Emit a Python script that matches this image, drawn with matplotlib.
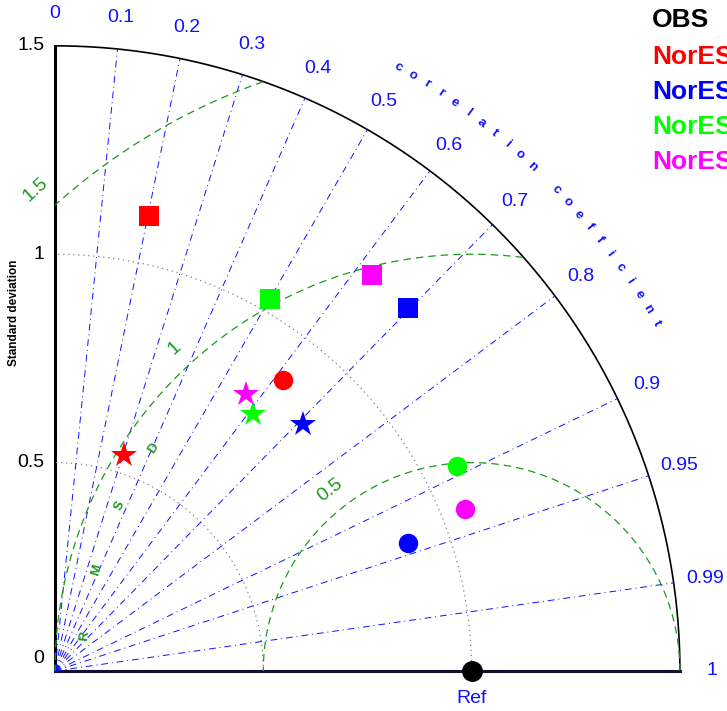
import matplotlib
matplotlib.use('Agg')

import numpy as np
import matplotlib.pyplot as plt

plt.rcParams['font.family'] = ['Liberation Sans', 'DejaVu Sans']

# Model names (only the start is visible in the picture)
models = ['NorESM2-LM', 'NorESM2-MM', 'NorESM1-M', 'NorESM1-ME']
colors = ['#ff0000', '#0000ff', '#00ff00', '#ff00ff']

# Normalized standard deviations and correlations, one list per marker type
std_square = [1.115, 1.215, 1.031, 1.217]
corr_square = [0.202, 0.697, 0.500, 0.625]
std_circle = [0.887, 0.901, 1.083, 1.058]
corr_circle = [0.617, 0.940, 0.891, 0.930]
std_star = [0.544, 0.840, 0.778, 0.807]
corr_star = [0.305, 0.708, 0.610, 0.568]

ref_std = 1.0
max_std = 1.5
corr_ticks = [0.1, 0.2, 0.3, 0.4, 0.5, 0.6, 0.7, 0.8, 0.9, 0.95, 0.99]
corr_labels = ['0', '0.1', '0.2', '0.3', '0.4', '0.5', '0.6', '0.7', '0.8', '0.9', '0.95', '0.99', '1']
std_ticks = [0, 0.5, 1, 1.5]
std_tick_labels = ['0', '0.5', '1', '1.5']
rms_levels = [0.5, 1.0, 1.5]
rms_labels = ['0.5', '1', '1.5']

fig = plt.figure(figsize=(7.27, 7.11), dpi=100)
ax = fig.add_axes([0, 0, 1, 1])
ax.set_xlim(-0.132, 1.613)
ax.set_ylim(-0.096, 1.610)
ax.axis('off')

blue = '#1010ff'
green = '#1a9a1a'

# outer arc and axes
t = np.linspace(0, np.pi / 2, 400)
ax.plot(max_std * np.cos(t), max_std * np.sin(t), color='black', lw=1.2)
ax.plot([0, 0], [0, max_std], color='black', lw=2.2)
ax.plot([0, max_std], [0, 0], color='#101030', lw=2.2)

# std dotted arcs
for s in [0.5, 1.0]:
    ax.plot(s * np.cos(t), s * np.sin(t), color='grey', ls=(0, (1, 3)), lw=0.9)

# correlation lines
for c in corr_ticks:
    a = np.arccos(c)
    ax.plot([0, max_std * np.cos(a)], [0, max_std * np.sin(a)], color=blue,
            ls=(0, (7, 4, 1, 4)), lw=0.7)

# correlation labels
corr_vals = [0] + corr_ticks + [1]
for c, lab in zip(corr_vals, corr_labels):
    a = np.arccos(c)
    r = 1.577
    ax.text(r * np.cos(a), r * np.sin(a), lab, color=blue, fontsize=14,
            ha='center', va='center')

# "correlation coefficient" along arc
title = 'correlation coefficient'
ang0, step = 60.4, 1.38
for i, ch in enumerate(title):
    ang = np.radians(ang0 - i * step)
    ax.text(1.667 * np.cos(ang), 1.667 * np.sin(ang), ch, color=blue,
            fontsize=9.5, fontweight='bold', ha='center', va='center',
            rotation=np.degrees(ang) - 90, rotation_mode='anchor')

# RMS difference arcs
tt = np.linspace(0, np.pi, 800)
for r in rms_levels:
    x = ref_std + r * np.cos(tt)
    y = r * np.sin(tt)
    ok = (x >= 0) & (np.hypot(x, y) <= max_std)
    x = np.where(ok, x, np.nan)
    y = np.where(ok, y, np.nan)
    ax.plot(x, y, color=green, ls=(0, (6, 4)), lw=0.9)

rms_pos = [(0.551, 128.0, 38), (1.052, 132.6, 42), (1.559, 132.2, 42)]
for (r, a, rot), lab in zip(rms_pos, rms_labels):
    a = np.radians(a)
    ax.text(ref_std + r * np.cos(a), r * np.sin(a), lab, color=green,
            fontsize=14, ha='center', va='center', rotation=rot)

for ch, a in zip('RMSD', [174.8, 164.9, 154.8, 145.1]):
    ar = np.radians(a)
    ax.text(ref_std + 0.932 * np.cos(ar), 0.932 * np.sin(ar), ch, color=green,
            fontsize=9.5, fontweight='bold', ha='center', va='center', rotation=a - 90)

# std tick labels
for s, lab in zip(std_ticks, std_tick_labels):
    ax.text(-0.025, s + (0.03 if s == 0 else 0), lab, color='black', fontsize=14,
            ha='right', va='center')
ax.text(-0.098, 0.86, 'Standard deviation', rotation=90, fontsize=8.5,
        fontweight='bold', ha='center', va='center')

# reference point
ax.plot([ref_std], [0], 'o', color='black', markersize=14, clip_on=False, zorder=5)
ax.text(ref_std, -0.065, 'Ref', color=blue, fontsize=14, ha='center', va='center')

# model points
for i in range(len(models)):
    for stds, corrs, mk, ms in [(std_square, corr_square, 's', 15),
                                (std_circle, corr_circle, 'o', 14),
                                (std_star, corr_star, '*', 19)]:
        a = np.arccos(corrs[i])
        ax.plot(stds[i] * np.cos(a), stds[i] * np.sin(a), mk, color=colors[i],
                markersize=ms, markeredgewidth=0, zorder=5)

# legend text (cut at the right edge, as in the original)
fig.text(652 / 727, 1 - 20 / 711, 'OBS', fontsize=19, fontweight='bold',
         color='black', va='center', ha='left')
for i, m in enumerate(models):
    fig.text(652 / 727, 1 - (57 + 35 * i) / 711, m, fontsize=19, fontweight='bold',
             color=colors[i], va='center', ha='left')

fig.savefig('out.png', dpi=100)
